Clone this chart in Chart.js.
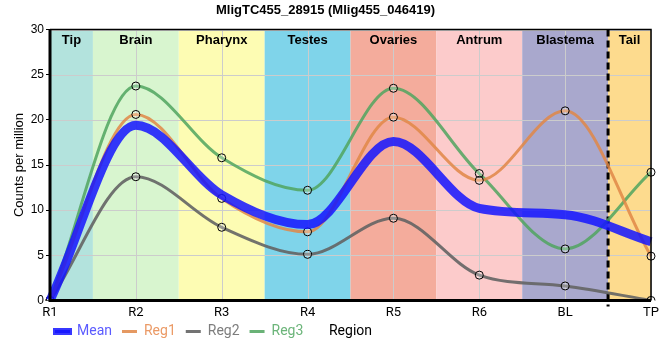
<!DOCTYPE html>
<html>
<head>
<meta charset="utf-8">
<script src="https://cdn.jsdelivr.net/npm/chart.js@4"></script>
<style>
    body { margin: 0; background: #fff; }
    #wrap { width: 660px; height: 360px; }
</style>
</head>
<body>
<div id="wrap"><canvas id="chart"></canvas></div>
<script>
const regions = ['R1', 'R2', 'R3', 'R4', 'R5', 'R6', 'BL', 'TP'];
const bandNames = ['Tip', 'Brain', 'Pharynx', 'Testes', 'Ovaries', 'Antrum', 'Blastema', 'Tail'];
const bandColors = ['#b3e3dd', '#d8f5cf', '#fdfcb3', '#7fd4ea', '#f4ac9c', '#fccbcb', '#a9a8cd', '#fddb8e'];
const meanValues = [0, 19.4, 11.7, 8.4, 17.6, 10.2, 9.5, 6.5];
const reg1Values = [0, 20.6, 11.3, 7.6, 20.3, 13.3, 21.0, 4.9];
const reg2Values = [0, 13.7, 8.1, 5.1, 9.1, 2.8, 1.6, 0];
const reg3Values = [0, 23.75, 15.8, 12.2, 23.5, 14.05, 5.7, 14.2];
const yTicks = [0, 5, 10, 15, 20, 25, 30];

// background bands + labels, dashed tail separator, frame
const bandsPlugin = {
    id: 'bands',
    afterLayout(chart) {
        // legend row: under the plot, indented to the y axis
        const lg = chart.legend, a = chart.chartArea;
        const h = lg.height;
        lg.left = a.left - 5;
        lg.top = a.bottom + 31 - h / 2;
        lg.bottom = lg.top + h;
    },
    beforeDatasetsDraw(chart) {
        const { ctx, chartArea: a, scales: { x } } = chart;
        ctx.save();
        bandNames.forEach((name, i) => {
            const l = Math.max(a.left, x.getPixelForValue(i - 0.5));
            const r = Math.min(a.right, x.getPixelForValue(i + 0.5));
            ctx.fillStyle = bandColors[i];
            ctx.fillRect(l, a.top, r - l, a.bottom - a.top);
        });
        // grid on top of the bands
        ctx.strokeStyle = '#cccccc';
        ctx.lineWidth = 1;
        yTicks.forEach(v => {
            const py = Math.round(chart.scales.y.getPixelForValue(v)) + 0.5;
            ctx.beginPath(); ctx.moveTo(a.left, py); ctx.lineTo(a.right, py); ctx.stroke();
        });
        regions.forEach((r, i) => {
            const px = Math.round(x.getPixelForValue(i)) + 0.5;
            ctx.beginPath(); ctx.moveTo(px, a.top); ctx.lineTo(px, a.bottom); ctx.stroke();
        });
        ctx.fillStyle = '#000';
        ctx.font = 'bold 13px "Liberation Sans", Arial, sans-serif';
        ctx.textAlign = 'center';
        ctx.textBaseline = 'middle';
        bandNames.forEach((name, i) => {
            const l = Math.max(a.left, x.getPixelForValue(i - 0.5));
            const r = Math.min(a.right, x.getPixelForValue(i + 0.5));
            ctx.fillText(name, (l + r) / 2, a.top + 11);
        });
        const dx = x.getPixelForValue(regions.length - 1.5);
        ctx.strokeStyle = '#000';
        ctx.lineWidth = 3;
        ctx.setLineDash([7, 4]);
        ctx.beginPath(); ctx.moveTo(dx, a.top); ctx.lineTo(dx, a.bottom + 6); ctx.stroke();
        ctx.setLineDash([]);
        ctx.restore();
    },
    afterDraw(chart) {
        const { ctx, chartArea: a, legend } = chart;
        ctx.save();
        ctx.strokeStyle = '#000';
        ctx.lineWidth = 1.5;
        ctx.beginPath();
        ctx.moveTo(a.left, a.top); ctx.lineTo(a.right, a.top); ctx.lineTo(a.right, a.bottom);
        ctx.stroke();
        ctx.lineWidth = 3;
        ctx.beginPath();
        ctx.moveTo(a.left, a.top); ctx.lineTo(a.left, a.bottom); ctx.lineTo(a.right, a.bottom);
        ctx.stroke();
        // x axis title sits on the legend row
        ctx.fillStyle = '#000';
        ctx.font = '14px Roboto, sans-serif';
        ctx.textAlign = 'center';
        ctx.textBaseline = 'middle';
        ctx.fillText('Region', (a.left + a.right) / 2, legend.top + legend.height / 2);
        ctx.restore();
    }
};

const pointStyle = { pointRadius: 4, pointBorderWidth: 1, pointBorderColor: '#000', pointBackgroundColor: 'rgba(255,255,255,0.25)' };

const ctx = document.getElementById('chart').getContext('2d');
new Chart(ctx, {
    type: 'line',
    data: {
        labels: regions,
        datasets: [
            { label: 'Mean', data: meanValues, borderColor: 'rgba(20,20,255,0.85)', borderWidth: 9, pointRadius: 0, order: 0 },
            { label: 'Reg1', data: reg1Values, borderColor: 'rgba(225,135,70,0.85)', borderWidth: 3, order: 1, ...pointStyle },
            { label: 'Reg2', data: reg2Values, borderColor: 'rgba(100,100,100,0.9)', borderWidth: 3, order: 2, ...pointStyle },
            { label: 'Reg3', data: reg3Values, borderColor: 'rgba(80,165,95,0.85)', borderWidth: 3, order: 3, ...pointStyle }
        ]
    },
    options: {
        responsive: true,
        maintainAspectRatio: false,
        animation: false,
        layout: { padding: { left: 0, right: 9, top: 0, bottom: 0 } },
        elements: {
            line: { cubicInterpolationMode: 'monotone' }
        },
        plugins: {
            title: {
                display: true,
                text: 'MligTC455_28915 (Mlig455_046419)',
                color: '#000',
                font: { family: '"Liberation Sans", Arial, sans-serif', size: 13, weight: 'bold' },
                padding: { top: 3, bottom: 11 }
            },
            legend: {
                position: 'bottom',
                align: 'start',
                labels: {
                    boxWidth: 15,
                    boxHeight: 3,
                    padding: 10,
                    font: { family: 'Roboto, sans-serif', size: 14 },
                    generateLabels(chart) {
                        const textColors = ['#5b5bff', '#eb9a66', '#7d7d7d', '#6cb57a'];
                        return chart.data.datasets.map((ds, i) => ({
                            text: ds.label,
                            fillStyle: ds.borderColor,
                            strokeStyle: ds.borderColor,
                            lineWidth: i === 0 ? 4 : 0,
                            fontColor: textColors[i],
                            datasetIndex: i,
                            hidden: false
                        }));
                    }
                }
            },
            tooltip: { enabled: false }
        },
        scales: {
            x: {
                offset: false,
                afterFit(scale) { scale.paddingRight = 0; scale.paddingLeft = 0; },
                grid: { display: false, drawTicks: false },
                border: { display: false },
                ticks: { color: '#000', padding: 5, font: { family: 'Roboto, sans-serif', size: 13 } }
            },
            y: {
                min: 0,
                max: 30,
                afterFit(scale) { scale.width = 50; },
                afterBuildTicks(scale) { scale.ticks = yTicks.map(v => ({ value: v })); },
                grid: { display: true, drawOnChartArea: false, drawTicks: true, tickLength: 4, tickColor: '#000', color: '#000' },
                border: { display: false },
                ticks: { color: '#000', padding: 2, font: { family: '"Liberation Sans", Arial, sans-serif', size: 12 } },
                title: {
                    display: true,
                    text: 'Counts per million',
                    color: '#000',
                    padding: { top: 12, bottom: 0 },
                    font: { family: '"Liberation Sans", Arial, sans-serif', size: 13 }
                }
            }
        }
    },
    plugins: [bandsPlugin]
});
</script>
</body>
</html>
